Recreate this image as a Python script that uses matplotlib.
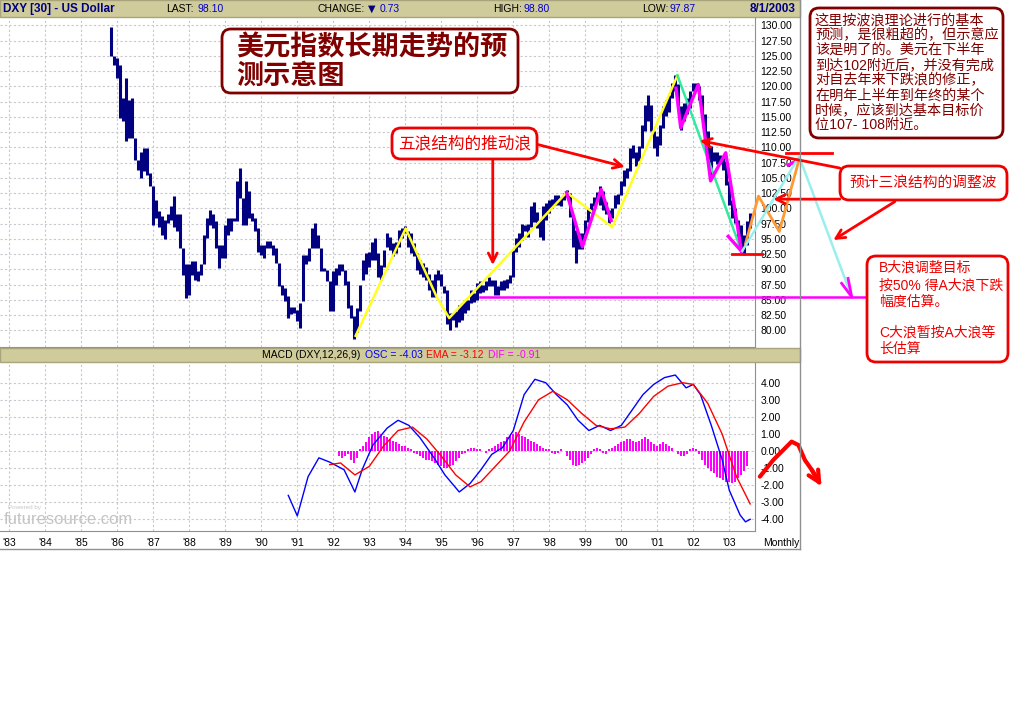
import numpy as np
import matplotlib.pyplot as plt
from matplotlib.patches import FancyBboxPatch, Rectangle
from matplotlib.lines import Line2D

plt.rcParams['font.family'] = ['Liberation Sans', 'Noto Sans CJK SC', 'DejaVu Sans']

# ---- monthly DXY bars, Nov 1985 .. Jul 2003 ----
bar_start = 1985 + 10 / 12
bar_high = [
    129.8, 124.9, 124.6, 123.5, 118.1, 121.4, 117.8, 118.1, 111.5, 108.0,
    109.3, 109.9, 109.9, 105.8, 103.6, 101.4, 99.5, 98.7, 98.1, 99.0,
    100.3, 102.0, 99.0, 99.0, 93.5, 90.8, 90.8, 91.3, 91.3, 89.7,
    90.8, 95.7, 98.4, 99.8, 99.0, 97.9, 94.0, 94.0, 97.3, 98.4,
    98.4, 98.4, 104.4, 106.6, 101.7, 104.4, 102.8, 99.2, 98.4, 96.8,
    94.0, 94.0, 94.6, 94.6, 94.0, 93.5, 91.0, 87.5, 86.9, 85.6,
    83.9, 83.9, 83.4, 84.5, 92.4, 92.4, 93.5, 96.8, 97.6, 95.7,
    93.5, 90.2, 89.9, 88.0, 89.7, 90.2, 90.8, 90.8, 89.9, 88.0,
    84.2, 82.3, 83.7, 87.5,
    91.5, 92.6, 92.9, 94.5, 95.1, 92.6, 90.7, 93.2, 95.9, 95.3,
    94.3, 94.5, 96.4, 96.7, 97.1, 96.2, 95.9, 94.3, 92.6, 91.5,
    91.0, 90.4, 89.3, 88.2, 89.3, 89.9, 89.3, 87.2, 86.6, 82.8,
    82.8, 83.1, 84.2, 84.4, 85.0, 85.0, 86.6, 86.1, 87.7, 88.0,
    87.4, 88.0, 88.8, 88.2, 88.2, 87.2, 88.0, 88.2, 88.4, 89.1,
    93.2, 95.1, 95.9, 97.5, 97.3, 97.5, 100.3, 101.1, 99.4, 98.1,
    100.3, 100.8, 101.4, 101.6, 102.2, 102.2, 101.9, 102.5, 103.0, 102.5,
    98.6, 96.4, 95.9, 95.9, 98.1, 100.0, 100.8, 101.9, 102.7,
    103.6, 102.8, 101.1, 99.8, 100.0, 102.2, 102.3, 104.4, 106.3, 106.6,
    109.9, 110.4, 109.3, 110.2, 113.7, 117.0, 118.6, 117.0, 112.6, 111.8,
    113.7, 116.7, 117.8, 118.5, 120.5, 121.9, 120.3, 116.7, 117.3, 118.1,
    119.2, 120.5, 120.5, 120.0, 118.6, 115.4, 112.6, 110.2, 109.3, 109.3,
    108.8, 108.2, 107.7, 104.4, 101.4, 100.0, 98.1, 97.3, 95.7, 97.9,
    99.2,
]
bar_low = [
    124.9, 123.5, 121.4, 114.8, 114.3, 111.0, 111.5, 111.5, 108.0, 106.3,
    105.0, 106.1, 105.5, 103.6, 97.3, 98.4, 97.0, 95.7, 94.9, 97.6,
    98.1, 97.0, 96.2, 93.5, 89.1, 85.3, 85.8, 89.1, 88.3, 88.0,
    89.1, 90.8, 95.1, 97.3, 96.8, 93.5, 90.2, 91.9, 91.9, 95.7,
    96.2, 97.9, 97.9, 101.7, 97.3, 97.3, 98.4, 97.9, 96.2, 92.9,
    92.4, 91.9, 93.5, 93.5, 92.4, 91.0, 87.2, 85.8, 84.8, 82.0,
    82.6, 82.8, 81.5, 80.4, 84.8, 90.8, 91.3, 93.5, 93.5, 93.5,
    89.7, 89.7, 88.0, 83.1, 83.1, 87.5, 89.1, 89.7, 87.5, 83.7,
    82.0, 78.5, 79.8, 83.1,
    88.2, 89.3, 90.4, 91.5, 91.5, 88.8, 88.2, 90.4, 93.7, 93.2,
    92.1, 92.6, 93.7, 95.1, 95.9, 93.7, 92.6, 92.1, 89.9, 89.3,
    88.8, 88.2, 86.6, 85.5, 85.5, 88.2, 87.2, 86.1, 81.1, 80.0,
    81.7, 80.6, 81.4, 81.7, 82.8, 83.3, 84.4, 84.7, 85.0, 86.1,
    86.3, 86.6, 87.2, 87.2, 85.8, 85.8, 86.6, 86.6, 86.9, 87.7,
    88.8, 92.9, 93.7, 94.8, 96.2, 95.3, 97.0, 97.8, 96.7, 95.3,
    94.8, 98.1, 99.2, 100.0, 100.5, 100.5, 100.3, 101.4, 101.9, 98.6,
    93.7, 91.0, 93.4, 93.4, 95.6, 97.8, 99.2, 100.3, 101.4,
    100.6, 99.8, 99.0, 97.6, 98.4, 100.0, 100.7, 102.2, 103.6, 105.0,
    106.1, 108.2, 106.9, 107.7, 109.9, 112.6, 114.3, 112.6, 109.9, 108.5,
    110.4, 113.2, 115.1, 115.8, 118.1, 119.2, 116.7, 112.9, 114.3, 115.4,
    116.4, 119.2, 119.5, 117.8, 115.1, 111.5, 107.2, 105.5, 107.7, 107.2,
    107.2, 106.3, 103.9, 100.6, 98.4, 97.6, 95.4, 93.0, 92.4, 94.0,
    96.8,
]

# wave lines drawn on the chart (year, price)
yellow_x = [1992.62, 1994.01, 1994.87, 1995.22, 1998.48, 1999.75, 2001.56]
yellow_y = [79.1, 96.7, 85.5, 82.0, 102.6, 96.9, 121.8]
green_x = [2001.56, 2003.34]
green_y = [121.8, 92.95]
magenta1_x = [1998.48, 1998.92, 1999.44, 1999.72]
magenta1_y = [102.6, 93.7, 103.1, 98.0]
magenta2_x = [2001.52, 2001.65, 2002.14, 2002.48, 2002.9, 2003.34]
magenta2_y = [119.7, 113.2, 120.3, 104.5, 109.1, 92.95]
magenta3_x = [2002.97, 2003.34]
magenta3_y = [95.4, 92.95]
magenta4_x = [2004.64, 2004.92]
magenta4_y = [107.1, 107.9]
orange_x = [2003.45, 2003.81, 2004.39, 2004.93]
orange_y = [94.2, 102.0, 96.2, 107.8]
cyan_x = [2003.36, 2004.94, 2006.4]
cyan_y = [93.0, 108.5, 85.5]
tip_x = [[2006.12, 2006.4], [2006.3, 2006.4]]
tip_y = [[87.7, 85.5], [88.5, 85.5]]
target_line = (1996.07, 2006.9, 85.4)
low_line = (2003.08, 2003.9, 92.5)
top_line = (2004.57, 2005.85, 109.1)
arrow_from = [(1997.65, 110.5), (1996.43, 108.2), (2006.07, 106.6), (2006.07, 101.5), (2007.6, 101.1)]
arrow_to = [(2000.10, 106.8), (1996.43, 90.7), (2002.18, 111.1), (2004.22, 101.5), (2005.89, 94.8)]

# MACD
osc_x = [1990.75, 1991.0, 1991.3, 1991.6, 1991.9, 1992.3, 1992.6, 1992.8, 1993.1, 1993.5,
         1993.8, 1994.1, 1994.4, 1994.8, 1995.1, 1995.5, 1995.8, 1996.1, 1996.4, 1996.7,
         1997.0, 1997.3, 1997.6, 1997.9, 1998.2, 1998.5, 1998.8, 1999.1, 1999.4, 1999.7,
         2000.0, 2000.3, 2000.6, 2000.9, 2001.2, 2001.5, 2001.8, 2002.0, 2002.2, 2002.5,
         2002.8, 2003.0, 2003.3, 2003.45, 2003.58]
osc_y = [-2.6, -3.8, -1.5, -0.4, -0.65, -1.1, -2.4, -1.1, 0.35, 1.35,
         1.8, 1.5, 0.8, -0.4, -1.4, -2.4, -1.9, -1.1, -0.2, 0.2,
         1.2, 3.3, 4.2, 4.0, 3.3, 2.7, 1.8, 1.2, 1.5, 1.2,
         1.5, 2.4, 3.3, 3.9, 4.3, 4.45, 3.7, 3.9, 3.3, 1.5,
         -0.5, -2.3, -3.75, -4.15, -4.0]
ema_x = [1991.9, 1992.2, 1992.6, 1993.0, 1993.4, 1993.8, 1994.2, 1994.6, 1995.0, 1995.4,
         1995.8, 1996.1, 1996.5, 1996.9, 1997.3, 1997.7, 1998.1, 1998.5, 1998.9, 1999.3,
         1999.7, 2000.1, 2000.5, 2000.9, 2001.3, 2001.7, 2002.0, 2002.4, 2002.8, 2003.2,
         2003.58]
ema_y = [-0.8, -0.7, -1.4, -0.9, 0.3, 1.2, 1.4, 0.7, -0.3, -1.4,
         -2.1, -1.8, -0.9, 0.0, 1.7, 3.0, 3.5, 3.0, 2.2, 1.5,
         1.3, 1.4, 2.2, 3.2, 3.8, 4.0, 3.9, 2.8, 1.0, -1.5,
         -3.1]
dif_start = 1992 + 2 / 12
dif = [-0.3, -0.4, -0.3, -0.2, -0.5, -0.7, -0.4, 0.1, 0.3, 0.5,
       0.8, 1.0, 1.1, 1.2, 1.0, 0.9, 0.8, 0.7, 0.6, 0.5, 0.4, 0.3,
       0.3, 0.2, 0.1, -0.1, -0.2, -0.3, -0.4, -0.5, -0.5, -0.6, -0.7, -0.8,
       -0.9, -1.0, -1.0, -0.9, -0.8, -0.6, -0.4, -0.2, -0.1, 0.1, 0.2, 0.2,
       0.1, 0.1, 0.0, -0.1, 0.1, 0.2, 0.3, 0.4, 0.5, 0.6, 0.8, 0.9,
       1.0, 1.1, 1.0, 0.9, 0.8, 0.7, 0.6, 0.5, 0.4, 0.3, 0.2, 0.1,
       0.1, -0.1, -0.2, -0.1, 0.1, 0.0, -0.3, -0.5, -0.8, -0.9, -0.8, -0.7,
       -0.6, -0.4, -0.2, 0.1, 0.2, 0.1, -0.1, -0.2, 0.1, 0.2, 0.3, 0.4,
       0.5, 0.6, 0.7, 0.7, 0.6, 0.5, 0.6, 0.7, 0.8, 0.7, 0.5, 0.4,
       0.3, 0.4, 0.5, 0.4, 0.3, 0.2, 0.0, -0.2, -0.3, -0.3, -0.2, 0.1,
       0.2, 0.1, -0.2, -0.5, -0.8, -1.0, -1.2, -1.3, -1.5, -1.6, -1.7, -1.8,
       -1.8, -1.9, -1.8, -1.6, -1.4, -1.2, -0.9]
hand_x = [2003.85, 2004.22, 2004.5, 2004.73, 2004.92, 2005.1, 2005.29, 2005.5]
hand_y = [-1.5, -0.53, 0.06, 0.55, 0.35, -0.53, -1.1, -1.85]

price_ticks = np.arange(80, 130.01, 2.5)
macd_ticks = np.arange(-4, 4.01, 1)
years = list(range(1983, 2004))

W, H = 1025, 718
fig = plt.figure(figsize=(10.25, 7.18), dpi=100)


def rect(x0, y0, x1, y1):
    return [x0 / W, 1 - y1 / H, (x1 - x0) / W, (y1 - y0) / H]


grid_kw = dict(color='#c8c8d0', linestyle=(0, (2, 2)), linewidth=0.8)
xlim = (1982.742, 2003.714)

# ---- price panel ----
ax = fig.add_axes(rect(0, 18, 755, 347))
ax.set_xlim(*xlim)
ax.set_ylim(77.26, 131.2)
ax.set_xticks(years)
ax.set_yticks(price_ticks)
ax.grid(True, **grid_kw)
ax.set_axisbelow(True)
ax.set_xticklabels([])
ax.yaxis.tick_right()
ax.set_yticklabels(['%.2f' % v for v in price_ticks], fontsize=7.5)
ax.tick_params(length=0, pad=4)
for s in ['left', 'top']:
    ax.spines[s].set_visible(False)
for s in ['right', 'bottom']:
    ax.spines[s].set_color('#909090')

bar_x = bar_start + np.arange(len(bar_high)) / 12
ax.vlines(bar_x, bar_low, bar_high, color='#000080', lw=2.2, zorder=2)

ax.plot(yellow_x, yellow_y, color='#ffff22', lw=1.8, zorder=3)
ax.plot(green_x, green_y, color='#33e8a0', lw=1.8, zorder=3)
for xs, ys in [(magenta1_x, magenta1_y), (magenta2_x, magenta2_y),
               (magenta3_x, magenta3_y)]:
    ax.plot(xs, ys, color='#ff00ff', lw=2.4, zorder=4)
ax.plot(magenta4_x, magenta4_y, color='#ff00ff', lw=2.4, zorder=4, clip_on=False)
ax.plot(orange_x, orange_y, color='#ff9933', lw=2, zorder=4, clip_on=False)
ax.plot(cyan_x, cyan_y, color='#99eeee', lw=1.8, zorder=4, clip_on=False)
for xs, ys in zip(tip_x, tip_y):
    ax.plot(xs, ys, color='#ff00ff', lw=2, zorder=4, clip_on=False)
ax.plot(target_line[:2], [target_line[2]] * 2, color='#ff00ff', lw=1.8, zorder=4, clip_on=False)
ax.plot(low_line[:2], [low_line[2]] * 2, color='#ff0000', lw=2, zorder=4, clip_on=False)
ax.plot(top_line[:2], [top_line[2]] * 2, color='#ff0000', lw=2, zorder=4, clip_on=False)
for a, b in zip(arrow_from, arrow_to):
    ax.annotate('', xy=b, xytext=a, annotation_clip=False, zorder=5,
                arrowprops=dict(arrowstyle='->', color='#ff0000', lw=2,
                                mutation_scale=16, shrinkA=0, shrinkB=0))

# ---- MACD panel ----
am = fig.add_axes(rect(0, 362, 755, 531))
am.set_xlim(*xlim)
am.set_ylim(-4.685, 5.213)
am.set_xticks(years)
am.set_yticks(macd_ticks)
am.grid(True, **grid_kw)
am.set_axisbelow(True)
am.set_xticklabels(["'%02d" % (y % 100) for y in years], fontsize=7.5)
am.yaxis.tick_right()
am.set_yticklabels(['%.2f' % v for v in macd_ticks], fontsize=7.5)
am.tick_params(length=0)
am.tick_params(axis='y', pad=4)
am.tick_params(axis='x', pad=5)
for s in ['left', 'top']:
    am.spines[s].set_visible(False)
for s in ['right', 'bottom']:
    am.spines[s].set_color('#909090')

dif_x = dif_start + np.arange(len(dif)) / 12
am.bar(dif_x, dif, width=0.055, color='#ff00ff', zorder=2)
am.plot(osc_x, osc_y, color='#0000ff', lw=1, zorder=3)
am.plot(ema_x, ema_y, color='#ff0000', lw=1, zorder=3)
am.plot(hand_x, hand_y, color='#ff0000', lw=3, zorder=4, clip_on=False,
        solid_capstyle='round')
am.annotate('', xy=(2005.56, -2.05), xytext=(hand_x[-2], hand_y[-2]), annotation_clip=False,
            arrowprops=dict(arrowstyle='->', color='#ff0000', lw=3, mutation_scale=20,
                            shrinkA=0, shrinkB=0))

# ---- overlay in pixel units for bars, frames and notes ----
ov = fig.add_axes([0, 0, 1, 1], zorder=10)
ov.set_xlim(0, W)
ov.set_ylim(H, 0)
ov.axis('off')
ov.patch.set_alpha(0)

ov.add_patch(Rectangle((0, 0), 800, 17, fc='#cfcb9a', ec='#a8a47c', lw=1))
ov.add_patch(Rectangle((0, 348), 800, 14, fc='#cfcb9a', ec='#a8a47c', lw=1))
ov.add_line(Line2D([800, 800], [0, 549], color='#909090', lw=1))
ov.add_line(Line2D([0, 800], [549, 549], color='#909090', lw=1))

ov.text(3, 9, 'DXY [30] - US Dollar', fontsize=8.5, fontweight='bold', color='#000080', va='center')
hdr = [(166, 'LAST:', 'black'), (197, '98.10', '#0000cc'), (317, 'CHANGE:', 'black'),
       (380, '0.73', '#0000cc'), (493, 'HIGH:', 'black'), (523, '98.80', '#0000cc'),
       (642, 'LOW:', 'black'), (670, '97.87', '#0000cc')]
for x, t, c in hdr:
    ov.text(x, 9, t, fontsize=7.5, color=c, va='center')
ov.text(368, 9, '\u25bc', fontsize=7, color='#000080', va='center', family='DejaVu Sans')
ov.text(795, 9, '8/1/2003', fontsize=8.5, fontweight='bold', color='#000080', va='center', ha='right')

macd_txt = [(262, 'MACD (DXY,12,26,9)', 'black'), (365, 'OSC = -4.03', '#0000ff'),
            (426, 'EMA = -3.12', '#ff0000'), (488, 'DIF = -0.91', '#ff00ff')]
for x, t, c in macd_txt:
    ov.text(x, 355.5, t, fontsize=7.5, color=c, va='center')
ov.text(763, 543, 'Monthly', fontsize=7.5, va='center')

ov.text(8, 508, 'Powered by', fontsize=4.5, color='#c8c8c8', va='center')
ov.text(4, 519, 'futuresource.com', fontsize=12, color='#c4c4c4', va='center')


def note(x0, y0, x1, y1, ec):
    ov.add_patch(FancyBboxPatch((x0, y0), x1 - x0, y1 - y0,
                                boxstyle='round,pad=0,rounding_size=9',
                                fc='white', ec=ec, lw=2))


dark = '#800000'
note(222, 29, 518, 93, dark)
ov.text(236, 48, '美元指数长期走势的预', fontsize=19.5, color=dark, va='center', fontweight='bold')
ov.text(236, 77, '测示意图', fontsize=19.5, color=dark, va='center', fontweight='bold')

note(810, 8, 1003, 138, dark)
right_lines = ['这里按波浪理论进行的基本', '预测，是很粗超的，但示意应', '该是明了的。美元在下半年',
               '到达102附近后，并没有完成', '对自去年来下跌浪的修正，', '在明年上半年到年终的某个',
               '时候，应该到达基本目标价', '位107- 108附近。']
for i, t in enumerate(right_lines):
    ov.text(815, 20 + i * 15, t, fontsize=10.2, color=dark, va='center')

red = '#ee0000'
note(392, 128, 537, 159, red)
ov.text(464.5, 143.5, '五浪结构的推动浪', fontsize=12, color=red, va='center', ha='center')

note(840, 166, 1007, 200, red)
ov.text(923.5, 183, '预计三浪结构的调整波', fontsize=10.6, color=red, va='center', ha='center')

note(867, 256, 1008, 362, red)
b_lines = [(268, 'B大浪调整目标'), (286, '按50% 得A大浪下跌'), (302, '幅度估算。'),
           (333, 'C大浪暂按A大浪等'), (349, '长估算')]
for y, t in b_lines:
    ov.text(879, y, t, fontsize=10, color=red, va='center')

fig.savefig('out.png', dpi=100)
